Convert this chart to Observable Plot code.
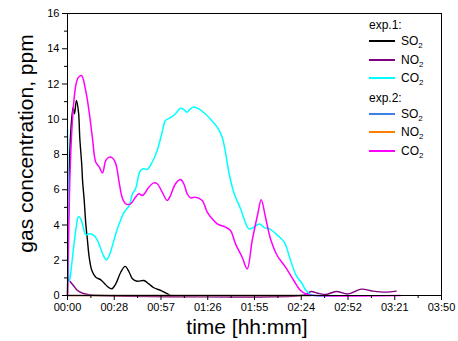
<!DOCTYPE html>
<html>
<head>
<meta charset="utf-8">
<script src="https://cdn.jsdelivr.net/npm/d3@7"></script>
<script src="https://cdn.jsdelivr.net/npm/@observablehq/plot@0.6"></script>
<style>
  html, body { margin: 0; padding: 0; background: white; }
  #wrap { position: relative; width: 458px; height: 341px; font-family: "Liberation Sans", Arial, sans-serif; }
  #legend { position: absolute; left: 369px; top: 18px; font-size: 12px; color: #000; }
  .hdr { height: 14px; line-height: 14px; }
  .hdr2 { margin-top: 3px; }
  .row { height: 18.5px; display: flex; align-items: center; }
  .sw { width: 26px; height: 2px; margin-right: 6px; }
  sub { font-size: 8px; vertical-align: -3px; line-height: 0; }
</style>
</head>
<body>
<div id="wrap"></div>
<script>
// time in minutes, concentration in ppm
const exp1_SO2 = [[0,0],[0.8,6.0],[2.0,9.27],[3.47,10.68],[4.3,10.31],[5.5,11.06],[6.78,10.4],[7.6,8.89],[8.8,7.38],[9.3,6.5],[10.3,5.39],[11.27,4.07],[12.3,3.12],[13.37,2.17],[15.0,1.42],[17.43,1.04],[20.5,0.89],[22.6,0.7],[24.6,0.51],[27.3,0.38],[29.75,0.66],[32.8,1.32],[35.5,1.65],[38.0,1.32],[40.0,0.95],[42.9,0.81],[47.1,0.85],[50.1,0.66],[53.2,0.44],[57.6,0.28],[60.4,0.15],[63.4,0]];
const exp1_NO2 = [[0,0.95],[2.0,0.75],[4.1,0.51],[6.2,0.28],[9.2,0.13],[13.4,0.04],[20,0],[144,0],[147,0.09],[150.1,0.23],[154.2,0.13],[159.4,0.06],[165.5,0.23],[172.7,0.09],[180.9,0.36],[188.1,0.25],[196.3,0.19],[202.5,0.25]];
const exp1_CO2 = [[0,9.4],[0.5,5.0],[1.1,0.8],[1.6,1.0],[3.08,2.17],[5.11,3.69],[6.78,4.48],[8.19,4.35],[9.67,3.88],[11.27,3.44],[13.37,3.5],[16.45,3.4],[18.48,3.12],[20.51,2.65],[22.61,2.17],[24.03,2.02],[25.69,2.27],[27.72,2.84],[29.75,3.5],[31.85,4.07],[34.93,4.73],[38.01,5.1],[40.04,5.77],[41.89,6.05],[44.97,7.09],[47.0,7.19],[49.1,7.15],[52.18,7.56],[55.26,8.23],[58.34,9.27],[60.37,9.93],[63.45,10.09],[66.53,10.31],[69.61,10.62],[71.64,10.55],[73.6,10.4],[75.77,10.59],[77.6,10.7],[80.9,10.59],[85.0,10.3],[88.1,10.0],[92.2,9.55],[95.3,8.98],[97.3,8.13],[99.4,7.0],[102.4,5.86],[106.6,4.92],[111.7,3.78],[114.2,3.84],[118.3,4.05],[121.4,3.84],[124.4,3.78],[129.6,3.4],[133.7,3.0],[136.8,2.17],[140.9,1.13],[144.0,0.75],[147.0,0.28],[150.1,0.04],[165.7,0]];
const exp2_SO2 = [[0,0],[150,0]];
const exp2_NO2 = [[0,0],[150,0]];
const exp2_CO2 = [[0,0],[0.6,3.0],[1.4,6.5],[2.2,8.5],[3.3,10.3],[4.9,11.8],[6.5,12.35],[8.6,12.48],[11.27,11.6],[13.37,10.4],[15.4,8.9],[17.43,7.56],[19.53,7.3],[21.56,6.96],[23.59,7.66],[25.69,7.85],[27.72,7.8],[29.75,7.47],[31.85,6.4],[33.88,5.5],[35.91,5.2],[38.81,5.2],[41.89,5.58],[43.92,5.77],[46.02,5.67],[48.05,5.86],[50.08,6.14],[53.16,6.39],[55.26,6.34],[58.34,5.86],[61.42,5.39],[63.45,5.67],[66.53,6.34],[69.61,6.58],[71.64,6.34],[73.74,5.77],[75.77,5.54],[78.85,5.58],[82.98,5.39],[86.06,4.73],[89.14,4.35],[92.22,4.07],[97.33,3.88],[100.41,3.69],[103.49,2.93],[107.62,2.17],[110.7,1.51],[113.78,3.12],[117.23,4.64],[119.33,5.43],[121.97,4.44],[125.05,3.22],[129.18,2.27],[134.29,1.61],[139.41,0.85],[143.54,0.28],[147.66,0.06],[152.8,0],[205,0]];

const xTickVals = [0, 28.8, 57.6, 86.4, 115.2, 144, 172.8, 201.6, 230.4];
const xTickLabels = ["00:00","00:28","00:57","01:26","01:55","02:24","02:52","03:21","03:50"];
const xMinor = [14.4, 43.2, 72, 100.8, 129.6, 158.4, 187.2, 216];
const yTickVals = [0, 2, 4, 6, 8, 10, 12, 14, 16];
const yMinor = [1, 3, 5, 7, 9, 11, 13, 15];

const series = [
  {name: "SO", exp: 1, data: exp1_SO2, color: "#000000", w: 1.4},
  {name: "NO", exp: 1, data: exp1_NO2, color: "#800080", w: 1.4},
  {name: "CO", exp: 1, data: exp1_CO2, color: "#00FFFF", w: 1.5},
  {name: "SO", exp: 2, data: exp2_SO2, color: "#3f7fe8", w: 1.5},
  {name: "NO", exp: 2, data: exp2_NO2, color: "#FF8000", w: 1.5},
  {name: "CO", exp: 2, data: exp2_CO2, color: "#FF00FF", w: 1.5}
];

const chart = Plot.plot({
  width: 458, height: 341,
  marginLeft: 67, marginRight: 17, marginTop: 13, marginBottom: 46,
  x: {domain: [0, 230.4]},
  y: {domain: [0, 16]},
  style: {fontFamily: '"Liberation Sans", Arial, sans-serif', fontSize: "11px", color: "black", background: "white", overflow: "visible"},
  marks: [
    ...series.map(s => Plot.line(s.data, {x: d => d[0], y: d => d[1], stroke: s.color, strokeWidth: s.w, curve: "catmull-rom"})),
    Plot.frame({stroke: "black", strokeWidth: 1}),
    Plot.axisX(xTickVals, {tickSize: 5, tickPadding: 3, tickFormat: d => xTickLabels[xTickVals.indexOf(d)], label: null}),
    Plot.axisX(xMinor, {tickSize: 3, tickFormat: () => "", label: null}),
    Plot.axisY(yTickVals, {tickSize: 5, tickPadding: 3, label: null}),
    Plot.axisY(yMinor, {tickSize: 3, tickFormat: () => "", label: null}),
    Plot.text(["time [hh:mm]"], {frameAnchor: "bottom", textAnchor: "middle", lineAnchor: "middle", dy: 31.3, dx: -7.5, fontSize: 21}),
    Plot.text(["gas concentration, ppm"], {frameAnchor: "left", textAnchor: "middle", lineAnchor: "middle", dx: -41, dy: -11, rotate: -90, fontSize: 21})
  ]
});

const wrap = document.getElementById("wrap");
wrap.appendChild(chart);

const legend = document.createElement("div");
legend.id = "legend";
let html = "";
[1, 2].forEach(e => {
  html += `<div class="hdr${e === 2 ? " hdr2" : ""}">exp.${e}:</div>`;
  series.filter(s => s.exp === e).forEach(s => {
    html += `<div class="row"><div class="sw" style="background:${s.color}"></div><span>${s.name}<sub>2</sub></span></div>`;
  });
});
legend.innerHTML = html;
wrap.appendChild(legend);
</script>
</body>
</html>
